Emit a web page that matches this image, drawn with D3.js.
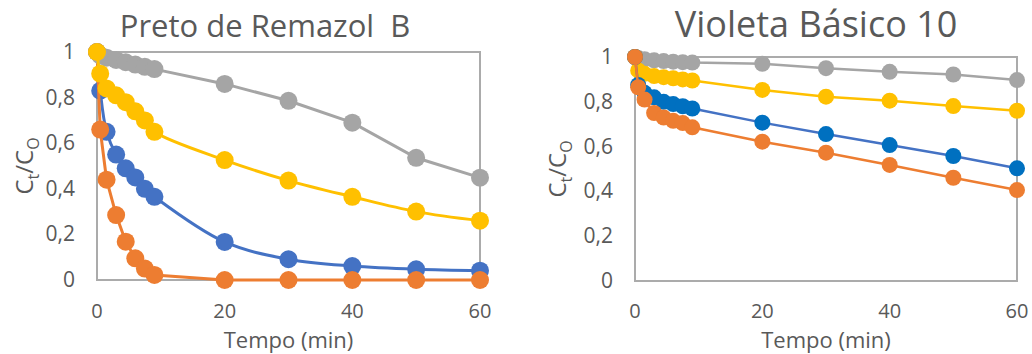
<!DOCTYPE html>
<html>
<head>
<meta charset="utf-8">
<script src="https://cdn.jsdelivr.net/npm/d3@7"></script>
<style>
  body { margin: 0; background: #fff; }
  text { font-family: "Open Sans", "Noto Sans", sans-serif; fill: #595959; }
</style>
</head>
<body>
<div id="chart"></div>
<script>
// sampling times (min), shared by both panels
var times = [0, 0.5, 1.5, 3, 4.5, 6, 7.5, 9, 20, 30, 40, 50, 60];
var xTicks = [0, 20, 40, 60];
var yTicks = [0, 0.2, 0.4, 0.6, 0.8, 1];

// Preto de Remazol B
var prTitle = "Preto de Remazol  B";
var prBlue   = [1, 0.83, 0.65, 0.55, 0.49, 0.45, 0.40, 0.365, 0.167, 0.091, 0.061, 0.047, 0.041];
var prOrange = [1, 0.66, 0.44, 0.285, 0.168, 0.095, 0.05, 0.022, 0, 0, 0, 0, 0];
var prGray   = [1, 0.985, 0.975, 0.965, 0.955, 0.945, 0.935, 0.925, 0.86, 0.786, 0.69, 0.536, 0.449];
var prYellow = [1, 0.905, 0.84, 0.81, 0.78, 0.74, 0.70, 0.65, 0.526, 0.436, 0.365, 0.30, 0.26];

// Violeta Básico 10
var vbTitle = "Violeta Básico 10";
var vbGray   = [1, 0.995, 0.99, 0.985, 0.982, 0.979, 0.977, 0.975, 0.97, 0.95, 0.934, 0.922, 0.897];
var vbYellow = [1, 0.94, 0.925, 0.915, 0.91, 0.905, 0.90, 0.895, 0.853, 0.823, 0.805, 0.781, 0.76];
var vbBlue   = [1, 0.875, 0.84, 0.82, 0.80, 0.79, 0.78, 0.77, 0.707, 0.656, 0.607, 0.558, 0.503];
var vbOrange = [1, 0.865, 0.81, 0.75, 0.73, 0.715, 0.705, 0.686, 0.622, 0.573, 0.518, 0.461, 0.406];

var W = 1032, H = 354;
var fmt = function(v){ return String(v).replace(".", ","); };

var svg = d3.select("#chart").append("svg")
  .attr("width", W).attr("height", H);
svg.append("rect").attr("width", W).attr("height", H).attr("fill", "#fff");

function drawPanel(p){
  var x = d3.scaleLinear().domain([0, 60]).range([p.left, p.right]);
  var y = d3.scaleLinear().domain([0, 1]).range([p.bottom, p.top]);
  var g = svg.append("g");

  // title
  g.append("text")
    .attr("x", p.titleX).attr("y", 37)
    .attr("text-anchor", "middle")
    .style("font-size", p.titleSize + "px")
    .style("white-space", "pre")
    .text(p.title);

  // y tick labels
  g.selectAll(".ytick").data(yTicks).enter().append("text")
    .attr("x", p.left - 22)
    .attr("y", function(d){ return y(d) + 7; })
    .attr("text-anchor", "end")
    .style("font-size", "21px")
    .text(fmt);

  // x tick labels
  g.selectAll(".xtick").data(xTicks).enter().append("text")
    .attr("x", function(d){ return x(d); })
    .attr("y", 318)
    .attr("text-anchor", "middle")
    .style("font-size", "20px")
    .text(function(d){ return d; });

  // axis titles
  g.append("text")
    .attr("x", (p.left + p.right) / 2).attr("y", 348)
    .attr("text-anchor", "middle")
    .style("font-size", "22px")
    .text("Tempo (min)");

  var yt = g.append("text")
    .attr("transform", "translate(" + p.yTitleX + "," + ((p.top + p.bottom) / 2) + ") rotate(-90)")
    .attr("text-anchor", "middle")
    .style("font-size", "24px");
  yt.append("tspan").text("C");
  yt.append("tspan").attr("dy", 6).style("font-size", "16px").text("t");
  yt.append("tspan").attr("dy", -6).text("/C");
  yt.append("tspan").attr("dy", 6).style("font-size", "16px").text("O");

  // plot area box
  g.append("rect")
    .attr("x", p.left).attr("y", p.top)
    .attr("width", p.right - p.left).attr("height", p.bottom - p.top)
    .attr("fill", "none").attr("stroke", "#ABABAB").attr("stroke-width", 2);

  p.series.forEach(function(s){
    var pts = times.map(function(t, i){ return [t, s.values[i]]; });
    var line = d3.line()
      .x(function(d){ return x(d[0]); })
      .y(function(d){ return y(d[1]); })
      .curve(s.smooth ? d3.curveCatmullRom.alpha(0.5) : d3.curveLinear);
    g.append("path").datum(pts)
      .attr("d", line)
      .attr("fill", "none")
      .attr("stroke", s.line || s.color)
      .attr("stroke-width", p.lineW);
    g.selectAll(null).data(pts).enter().append("circle")
      .attr("cx", function(d){ return x(d[0]); })
      .attr("cy", function(d){ return y(d[1]); })
      .attr("r", p.r)
      .attr("fill", s.color);
  });
}

drawPanel({
  title: prTitle, titleX: 265, titleSize: 31, yTitleX: 33,
  left: 97, right: 480, top: 52, bottom: 280, r: 9, lineW: 3,
  series: [
    {values: prBlue, color: "#4472C4", smooth: true},
    {values: prOrange, color: "#ED7D31"},
    {values: prGray, color: "#A5A5A5"},
    {values: prYellow, color: "#FFC000", smooth: true}
  ]
});

drawPanel({
  title: vbTitle, titleX: 816, titleSize: 36, yTitleX: 566,
  left: 635, right: 1017, top: 57, bottom: 281, r: 8, lineW: 2.5,
  series: [
    {values: vbGray, color: "#A5A5A5"},
    {values: vbYellow, color: "#FFC000"},
    {values: vbBlue, color: "#0070C0", line: "#4472C4"},
    {values: vbOrange, color: "#ED7D31"}
  ]
});
</script>
</body>
</html>
